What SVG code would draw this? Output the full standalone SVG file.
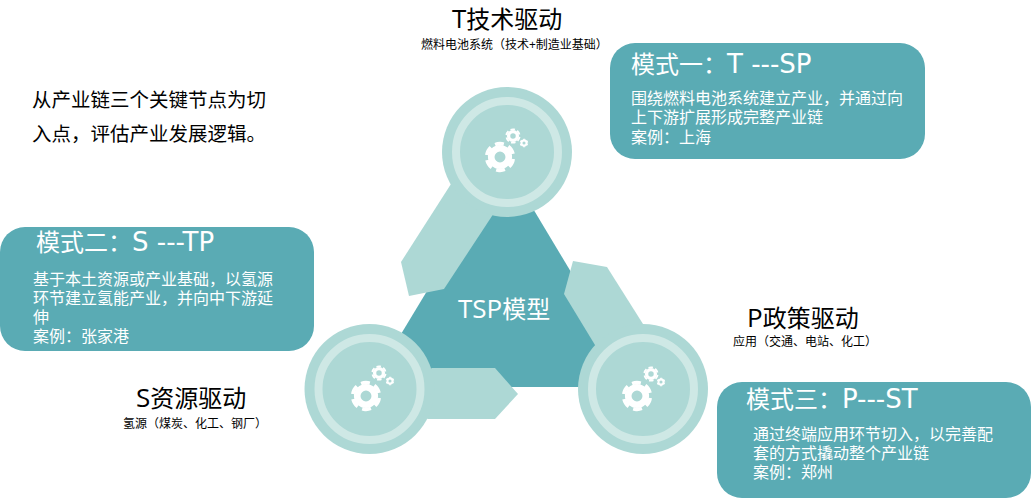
<svg xmlns="http://www.w3.org/2000/svg" width="1031" height="499" viewBox="0 0 1031 499">
<style>
text{font-family:"Open Sans","Noto Sans CJK SC","Noto Sans",sans-serif}
.box{fill:#5aabb4}
.tri{fill:#5aabb4}
.arm,.disc{fill:#add8d5}
.ring{fill:none;stroke:#cee8e5;stroke-width:8}
.h{font-size:24px;fill:#fff}
.l{font-family:"DejaVu Sans","Noto Sans CJK SC",sans-serif;font-size:26px}
.o{font-size:26px}
.b{font-size:16px;fill:#fff}
.t{font-size:24px;fill:#000}
.s{font-size:12px;fill:#000}
.i{font-size:19.5px;fill:#000}
</style>
<defs>
<g id="gear">
<circle r="5.85" fill="none" stroke="#fff" stroke-width="4.4"/>
<circle r="8.9" fill="none" stroke="#fff" stroke-width="2.4" pathLength="60" stroke-dasharray="6.4 3.6" transform="rotate(8.4)"/>
</g>
</defs>
<rect width="1031" height="499" fill="#fff"/>
<g id="model">
<polygon class="tri" points="505,162 640,387 369,387"/>
<text class="h" x="458" y="318"><tspan class="o">TSP</tspan>模型</text>
</g>
<g id="connectors">
<polygon class="arm" points="451,184 401,262 409,296 444,289 492,216 520,170"/>
<polygon class="arm" points="432,368 495,368 518,394 495,419 428,419 380,400"/>
<polygon class="arm" points="573,261 607,267 643,324 650,380 595,345 564,294"/>
</g>
<g id="node-t">
<circle class="disc" cx="507" cy="152" r="65"/>
<circle class="ring" cx="507" cy="152" r="51"/>
<use href="#gear" transform="translate(500 157) scale(1.5)"/>
<use href="#gear" transform="translate(513 136) scale(.75)"/>
<use href="#gear" transform="translate(524 143) scale(.42)"/>
<text class="t" x="452" y="28"><tspan class="o">T</tspan>技术驱动</text>
<text class="s" x="421" y="49">燃料电池系统（技术+制造业基础）</text>
</g>
<g id="node-s">
<circle class="disc" cx="369.5" cy="389" r="65"/>
<circle class="ring" cx="369.5" cy="389" r="51"/>
<use href="#gear" transform="translate(366 396) scale(1.5)"/>
<use href="#gear" transform="translate(379 373) scale(.75)"/>
<use href="#gear" transform="translate(390 381) scale(.42)"/>
<text class="t" x="136" y="407"><tspan class="o">S</tspan>资源驱动</text>
<text class="s" x="123" y="428">氢源（煤炭、化工、钢厂）</text>
</g>
<g id="node-p">
<circle class="disc" cx="643" cy="389" r="65"/>
<circle class="ring" cx="643" cy="389" r="51"/>
<use href="#gear" transform="translate(637 396) scale(1.5)"/>
<use href="#gear" transform="translate(651 374) scale(.75)"/>
<use href="#gear" transform="translate(661 382) scale(.42)"/>
<text class="t" x="747" y="327"><tspan class="o">P</tspan>政策驱动</text>
<text class="s" x="733" y="346">应用（交通、电站、化工）</text>
</g>
<g id="intro">
<text class="i" x="32" y="107">从产业链三个关键节点为切</text>
<text class="i" x="32" y="141">入点，评估产业发展逻辑。</text>
</g>
<g id="mode-1">
<rect class="box" x="610" y="43" width="315" height="116" rx="25"/>
<text class="h" x="631" y="73">模式一：<tspan class="l">T ---SP</tspan></text>
<text class="b" x="631" y="104">围绕燃料电池系统建立产业，并通过向</text>
<text class="b" x="631" y="123">上下游扩展形成完整产业链</text>
<text class="b" x="631" y="143">案例：上海</text>
</g>
<g id="mode-2">
<rect class="box" x="0" y="227" width="314" height="124" rx="25"/>
<text class="h" x="36" y="251">模式二：<tspan class="l">S ---TP</tspan></text>
<text class="b" x="33" y="285">基于本土资源或产业基础，以氢源</text>
<text class="b" x="33" y="304">环节建立氢能产业，并向中下游延</text>
<text class="b" x="33" y="323">伸</text>
<text class="b" x="33" y="342">案例：张家港</text>
</g>
<g id="mode-3">
<rect class="box" x="717" y="382" width="314" height="116" rx="25"/>
<text class="h" x="746" y="408">模式三：<tspan class="l">P---ST</tspan></text>
<text class="b" x="753" y="440">通过终端应用环节切入，以完善配</text>
<text class="b" x="753" y="459">套的方式撬动整个产业链</text>
<text class="b" x="753" y="478">案例：郑州</text>
</g>
</svg>
